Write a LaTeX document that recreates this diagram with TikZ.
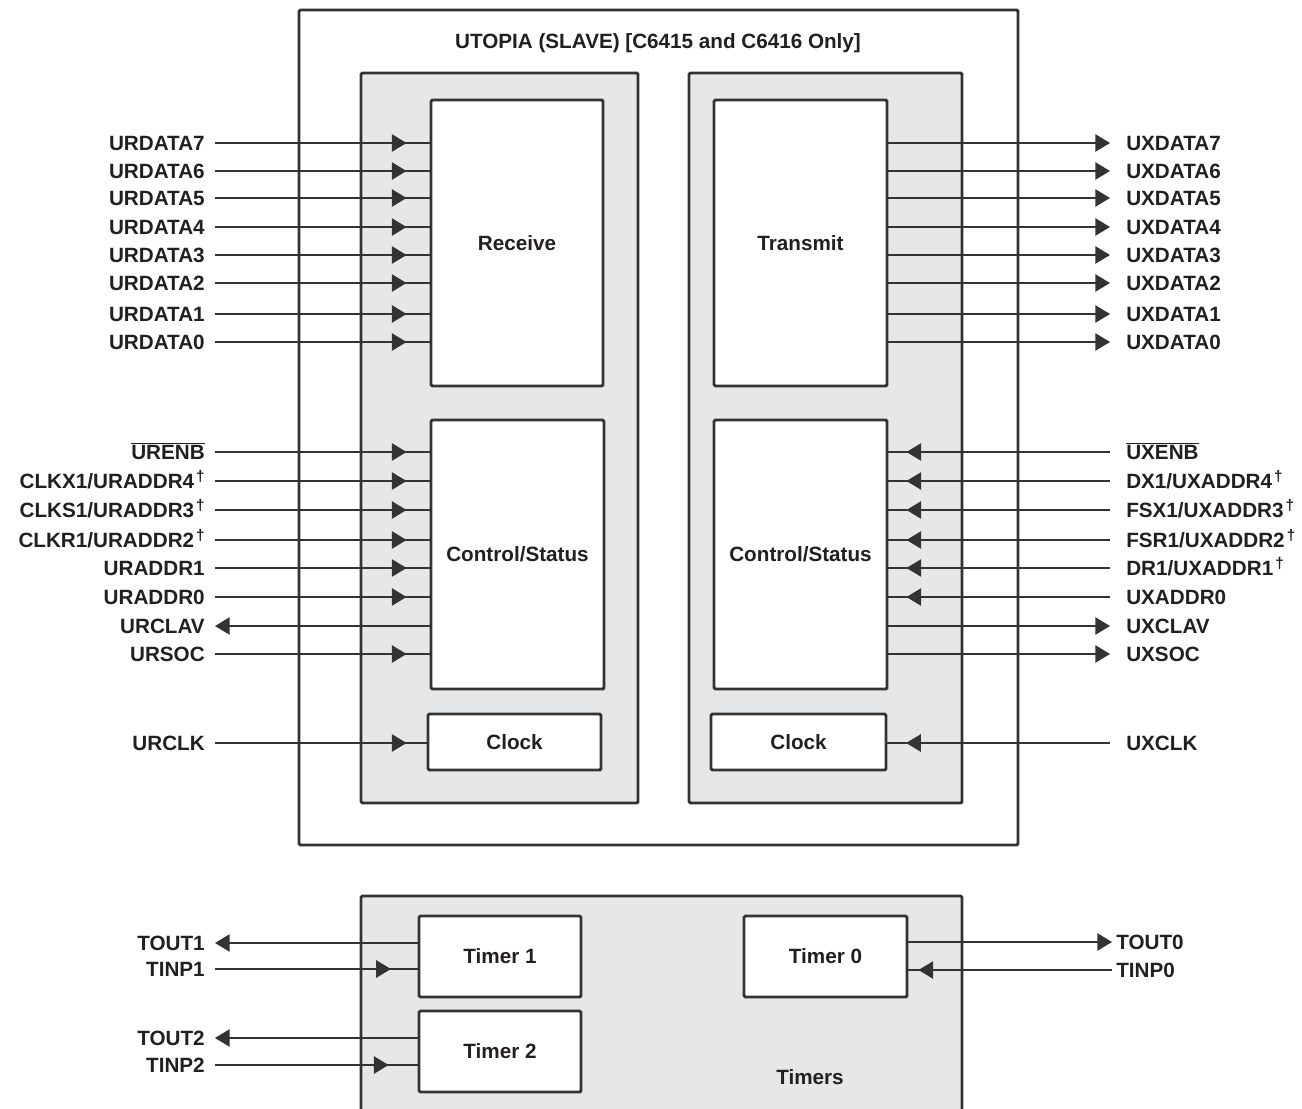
\documentclass[tikz,border=0pt]{standalone}
\usepackage{fontspec}
\setmainfont{Liberation Sans}
\usetikzlibrary{arrows.meta,decorations.markings}

\definecolor{ink}{HTML}{333333}
\definecolor{txt}{HTML}{231F20}
\definecolor{panel}{HTML}{E6E7E9}
\newcommand{\upx}{0.75pt}
\newcommand{\dg}{\hspace{1.5pt}\raisebox{5pt}{\fontsize{11.5pt}{11.5pt}\selectfont †}}

\tikzset{
  blk/.style={draw=ink, line width=2.2pt, fill=white, rounded corners=1pt, inner sep=0pt, text=txt},
  pnl/.style={draw=ink, line width=2.2pt, fill=panel, rounded corners=1pt, inner sep=0pt},
  lbl/.style={text=txt, inner ysep=0pt, text height=11.3pt, text depth=0pt},
  lbll/.style={lbl, anchor=east, inner xsep=7.5pt},
  lblr/.style={lbl, anchor=west, inner xsep=12pt},
  sig/.style={draw=ink, line width=1.1pt},
  outsig/.style={sig, -{Triangle[length=11pt,width=13pt]}},
  insig/.style={sig, postaction={decorate}, decoration={markings,
      mark=at position #1 with {\arrow{Triangle[length=11pt,width=13pt]}}}},
}

\begin{document}
\begin{tikzpicture}[line cap=butt, line join=miter, x=\upx, y=-\upx,
    font=\fontsize{15.5pt}{18pt}\selectfont\bfseries]
  \useasboundingbox (0,0) rectangle (1302,1109);

  % UTOPIA block
  \node[blk, minimum width=719*\upx, minimum height=835*\upx] (utopia) at (658.5,427.5) {};
  \node[text=txt] (title) at (658,43) {UTOPIA (SLAVE) [C6415 and C6416 Only]};
  \node[pnl, minimum width=277*\upx, minimum height=730*\upx] (rxpnl) at (499.5,438) {};
  \node[pnl, minimum width=273*\upx, minimum height=730*\upx] (txpnl) at (825.5,438) {};
  \node[blk, minimum width=172*\upx, minimum height=286*\upx] (rcv) at (517,243) {Receive};
  \node[blk, minimum width=173*\upx, minimum height=286*\upx] (xmt) at (800.5,243) {Transmit};
  \node[blk, minimum width=173*\upx, minimum height=269*\upx] (rctl) at (517.5,554.5) {Control/Status};
  \node[blk, minimum width=173*\upx, minimum height=269*\upx] (xctl) at (800.5,554.5) {Control/Status};
  \node[blk, minimum width=173*\upx, minimum height=56*\upx] (rclk) at (514.5,742) {Clock};
  \node[blk, minimum width=175*\upx, minimum height=56*\upx] (xclk) at (798.5,742) {Clock};

  % data lines
  \foreach \i/\y in {7/143,6/171,5/198,4/227,3/255,2/283,1/314,0/342}{
    \node[lbll] (ur\i) at (215,\y) {URDATA\i};
    \draw[insig=-17.25pt] (ur\i.east) -- (rcv.west |- ur\i.east);
    \node[lblr] (ux\i) at (1110,\y) {UXDATA\i};
    \draw[outsig] (xmt.east |- ux\i.west) -- (ux\i.west);
  }

  % receive control
  \node[lbll] (urenb) at (215,452) {$\overline{\mbox{\bfseries URENB}}$};
  \node[lbll] (ura4) at (215,481) {CLKX1/URADDR4\dg};
  \node[lbll] (ura3) at (215,510) {CLKS1/URADDR3\dg};
  \node[lbll] (ura2) at (215,540) {CLKR1/URADDR2\dg};
  \node[lbll] (ura1) at (215,568) {URADDR1};
  \node[lbll] (ura0) at (215,597) {URADDR0};
  \node[lbll] (urclav) at (215,626) {URCLAV};
  \node[lbll] (ursoc) at (215,654) {URSOC};
  \node[lbll] (urclk) at (215,743) {URCLK};
  \foreach \n in {urenb,ura4,ura3,ura2,ura1,ura0,ursoc}
    \draw[insig=-17.25pt] (\n.east) -- (rctl.west |- \n.east);
  \draw[outsig] (rctl.west |- urclav.east) -- (urclav.east);
  \draw[insig=-15pt] (urclk.east) -- (rclk.west |- urclk.east);

  % transmit control
  \node[lblr] (uxenb) at (1110,452) {$\overline{\mbox{\bfseries UXENB}}$};
  \node[lblr] (uxa4) at (1110,481) {DX1/UXADDR4\dg};
  \node[lblr] (uxa3) at (1110,510) {FSX1/UXADDR3\dg};
  \node[lblr] (uxa2) at (1110,540) {FSR1/UXADDR2\dg};
  \node[lblr] (uxa1) at (1110,568) {DR1/UXADDR1\dg};
  \node[lblr] (uxa0) at (1110,597) {UXADDR0};
  \node[lblr] (uxclav) at (1110,626) {UXCLAV};
  \node[lblr] (uxsoc) at (1110,654) {UXSOC};
  \node[lblr] (uxclk) at (1110,743) {UXCLK};
  \foreach \n in {uxenb,uxa4,uxa3,uxa2,uxa1,uxa0}
    \draw[insig=-13.5pt] (\n.west) -- (xctl.east |- \n.west);
  \draw[outsig] (xctl.east |- uxclav.west) -- (uxclav.west);
  \draw[outsig] (xctl.east |- uxsoc.west) -- (uxsoc.west);
  \draw[insig=-14pt] (uxclk.west) -- (xclk.east |- uxclk.west);

  % Timers block
  \node[pnl, minimum width=601*\upx, minimum height=234*\upx] (tmrpnl) at (661.5,1013) {};
  \node[blk, minimum width=162*\upx, minimum height=81*\upx] (tmr1) at (500,956.5) {Timer 1};
  \node[blk, minimum width=162*\upx, minimum height=81*\upx] (tmr2) at (500,1051.5) {Timer 2};
  \node[blk, minimum width=163*\upx, minimum height=81*\upx] (tmr0) at (825.5,956.5) {Timer 0};
  \node[text=txt] (tmrs) at (810,1077) {Timers};

  \node[lbll] (tout1) at (215,943) {TOUT1};
  \node[lbll] (tinp1) at (215,969) {TINP1};
  \node[lbll] (tout2) at (215,1038) {TOUT2};
  \node[lbll] (tinp2) at (215,1065) {TINP2};
  \node[lblr, inner xsep=3pt] (tout0) at (1112,942) {TOUT0};
  \node[lblr, inner xsep=3pt] (tinp0) at (1112,970) {TINP0};
  \draw[outsig] (tmr1.west |- tout1.east) -- (tout1.east);
  \draw[insig=-20pt] (tinp1.east) -- (tmr1.west |- tinp1.east);
  \draw[outsig] (tmr2.west |- tout2.east) -- (tout2.east);
  \draw[insig=-21.75pt] (tinp2.east) -- (tmr2.west |- tinp2.east);
  \draw[outsig] (tmr0.east |- tout0.west) -- (tout0.west);
  \draw[insig=-7.5pt] (tinp0.west) -- (tmr0.east |- tinp0.west);
\end{tikzpicture}
\end{document}
